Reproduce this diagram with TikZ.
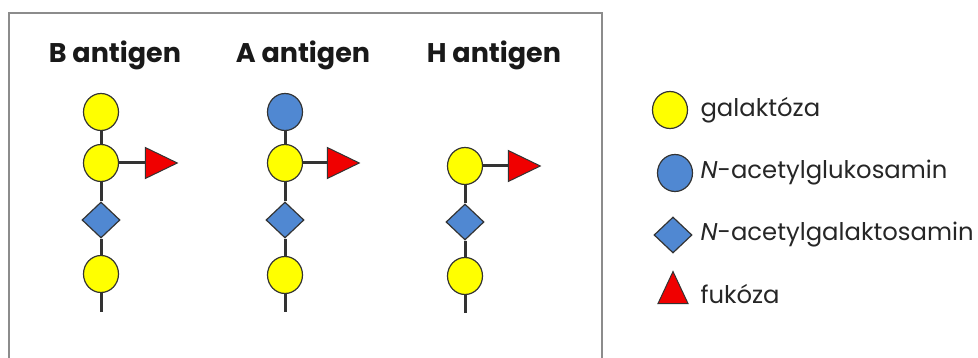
\documentclass[tikz,border=0pt]{standalone}
\usepackage{fontspec}
\setmainfont{Poppins}
\usetikzlibrary{shapes.geometric}
\definecolor{galyellow}{HTML}{FFFF00}
\definecolor{sugblue}{HTML}{5088D2}
\definecolor{fucred}{HTML}{F00000}
\definecolor{rim}{HTML}{333333}
\definecolor{frame}{HTML}{8C8C8C}
\tikzset{
  gal/.style={ellipse,draw=rim,line width=1.2pt,fill=galyellow,minimum width=35pt,minimum height=37pt,inner sep=0pt},
  glc/.style={gal,fill=sugblue},
  galnac/.style={diamond,draw=rim,line width=1.2pt,fill=sugblue,minimum width=38pt,minimum height=36pt,inner sep=0pt},
  fuc/.style={isosceles triangle,isosceles triangle stretches,draw=rim,line width=1pt,fill=fucred,minimum width=31pt,minimum height=32pt,inner sep=0pt},
  bond/.style={line width=3pt,draw=rim},
  title/.style={font=\fontsize{27}{30}\selectfont\bfseries,text=black!90},
  legend/.style={font=\fontsize{24.3}{28}\selectfont,anchor=west,text=black!85}
}
\begin{document}
\begin{tikzpicture}[x=1pt,y=-1pt]
\useasboundingbox (0,0) rectangle (978,358);
\draw[frame,line width=2pt] (9,358) -- (9,13) -- (602,13) -- (602,358);

% titles
\node[title] (tb) at (115,55) {B antigen};
\node[title] (ta) at (303,55) {A antigen};
\node[title] (th) at (494,55) {H antigen};

% B antigen
\node[gal] (b1) at (101,112) {};
\node[gal] (b2) at (101,163) {};
\node[galnac] (bd) at (101,220) {};
\node[gal] (b3) at (101,274) {};
\node[fuc] (bf) at (155,163) {};
\coordinate (bend) at (101,312);

% A antigen
\node[glc] (a1) at (285,112) {};
\node[gal] (a2) at (285,163) {};
\node[galnac] (ad) at (285,220) {};
\node[gal] (a3) at (285,275) {};
\node[fuc] (af) at (337,163) {};
\coordinate (aend) at (285,312);

% H antigen
\node[gal] (h1) at (465,166) {};
\node[galnac] (hd) at (465,222) {};
\node[gal] (h2) at (465,276) {};
\node[fuc] (hf) at (518,166) {};
\coordinate (hend) at (465,313);

\draw[bond] (b1) -- (b2) -- (bd) -- (b3) -- (bend);
\draw[bond] (b2) -- (bf);
\draw[bond] (a1) -- (a2) -- (ad) -- (a3) -- (aend);
\draw[bond] (a2) -- (af);
\draw[bond] (h1) -- (hd) -- (h2) -- (hend);
\draw[bond] (h1) -- (hf);

% legend
\node[gal] (lgal) at (670,110) {};
\node[glc] (lglc) at (675,173) {};
\node[galnac] (lnac) at (673,235) {};
\node[fuc,shape border rotate=90,minimum width=30pt,minimum height=32pt] (lfuc) at (673,294) {};
\node[legend] (tgal) at (697,110) {galaktóza};
\node[legend] (tglc) at (697,173) {\textit{N}-acetylglukosamin};
\node[legend] (tnac) at (697,235) {\textit{N}-acetylgalaktosamin};
\node[legend] (tfuc) at (697,294) {fukóza};
\end{tikzpicture}
\end{document}
